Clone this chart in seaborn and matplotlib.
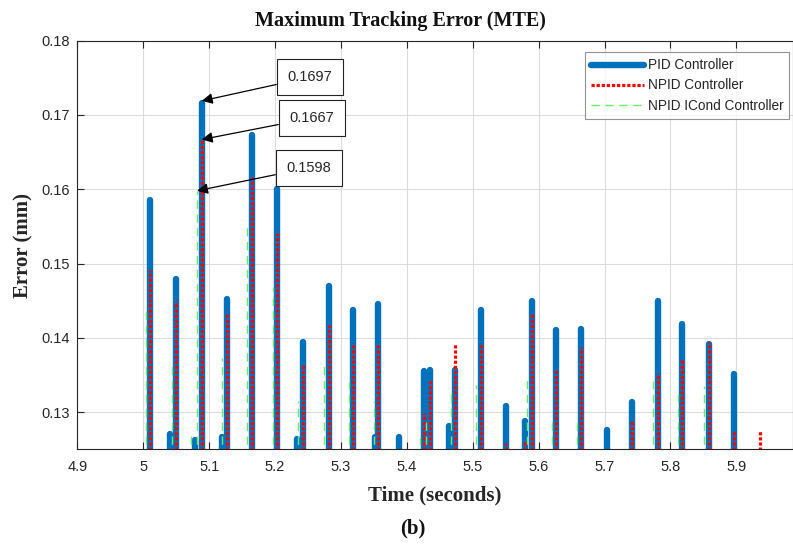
import pandas as pd
import matplotlib
matplotlib.use("Agg")
import matplotlib.pyplot as plt
import seaborn as sns

# peak times (s) and peak errors (mm), per controller
pid_t = [5.0103, 5.0407, 5.0498, 5.0786, 5.0888, 5.1190, 5.1267, 5.1651, 5.2026, 5.2330,
         5.2430, 5.2824, 5.3188, 5.3517, 5.3568, 5.3880, 5.4266, 5.4352, 5.4645, 5.4731,
         5.5121, 5.5501, 5.5798, 5.5895, 5.6269, 5.6643, 5.7042, 5.7422, 5.7816, 5.8180,
         5.8590, 5.8967]
pid_e = [0.1586, 0.1271, 0.1479, 0.1262, 0.1716, 0.1267, 0.1453, 0.1673, 0.1601, 0.1264,
         0.1394, 0.1470, 0.1438, 0.1267, 0.1446, 0.1267, 0.1356, 0.1357, 0.1281, 0.1357,
         0.1437, 0.1308, 0.1288, 0.1449, 0.1411, 0.1412, 0.1276, 0.1314, 0.1450, 0.1419,
         0.1392, 0.1352]

npid_t = [5.0103, 5.0498, 5.0888, 5.1267, 5.1651, 5.2026, 5.2430, 5.2824, 5.3188, 5.3568,
          5.4258, 5.4352, 5.4731, 5.5121, 5.5501, 5.5798, 5.5895, 5.6269, 5.6643, 5.7422,
          5.7816, 5.8180, 5.8590, 5.8967, 5.9355]
npid_e = [0.1492, 0.1449, 0.1667, 0.1433, 0.1617, 0.1541, 0.1364, 0.1417, 0.1390, 0.1391,
          0.1299, 0.1342, 0.1393, 0.1393, 0.1259, 0.1263, 0.1432, 0.1358, 0.1388, 0.1290,
          0.1353, 0.1371, 0.1394, 0.1276, 0.1275]

icond_t = [5.0038, 5.0443, 5.0728, 5.0817, 5.1200, 5.1580, 5.1965, 5.2356, 5.2748, 5.3127,
           5.3506, 5.4200, 5.4287, 5.4670, 5.5050, 5.5829, 5.6208, 5.6578, 5.7741, 5.8120,
           5.8514]
icond_e = [0.1437, 0.1364, 0.1274, 0.1598, 0.1373, 0.1554, 0.1468, 0.1315, 0.1367, 0.1340,
           0.1315, 0.1265, 0.1287, 0.1329, 0.1337, 0.1344, 0.1288, 0.1292, 0.1342, 0.1330,
           0.1335]

baseline = 0.12  # error floor, below the visible window

labels = ["PID Controller", "NPID Controller", "NPID ICond Controller"]
annot_vals = ["0.1697", "0.1667", "0.1598"]


def spikes(times, peaks):
    rows = []
    for i, (t, e) in enumerate(zip(times, peaks)):
        rows.append({"spike": i, "time": t, "error": baseline})
        rows.append({"spike": i, "time": t, "error": e})
    return pd.DataFrame(rows)


sns.set_style("white")
plt.rcParams["font.family"] = ["Liberation Sans", "DejaVu Sans"]

fig = plt.figure(figsize=(7.93, 5.5), dpi=100)
ax = fig.add_axes([0.0975, 0.183, 0.9025, 0.743])

serif = ["Liberation Serif", "DejaVu Serif"]

sns.lineplot(data=spikes(pid_t, pid_e), x="time", y="error", units="spike",
             estimator=None, color="#0072BD", linewidth=4.6,
             solid_capstyle="round", ax=ax)
n_pid = len(ax.lines)
sns.lineplot(data=spikes(npid_t, npid_e), x="time", y="error", units="spike",
             estimator=None, color="red", linewidth=2.3, linestyle=(0, (1, 0.6)), ax=ax)
n_npid = len(ax.lines)
sns.lineplot(data=spikes(icond_t, icond_e), x="time", y="error", units="spike",
             estimator=None, color="#66ee66", linewidth=1.0, linestyle=(0, (6, 4)), ax=ax)

ax.set_xlim(4.9, 5.986)
ax.set_ylim(0.125, 0.18)
ax.set_xticks([4.9, 5.0, 5.1, 5.2, 5.3, 5.4, 5.5, 5.6, 5.7, 5.8, 5.9])
ax.set_xticklabels(["4.9", "5", "5.1", "5.2", "5.3", "5.4", "5.5", "5.6", "5.7", "5.8", "5.9"])
ax.set_yticks([0.13, 0.14, 0.15, 0.16, 0.17, 0.18])
ax.set_yticklabels(["0.13", "0.14", "0.15", "0.16", "0.17", "0.18"])
ax.grid(True, color="#dcdcdc", linewidth=0.8)
ax.tick_params(direction="in", length=5, width=0.8, colors="#262626",
               labelsize=10.5, top=True, right=False, left=True, bottom=True)
ax.tick_params(axis="x", pad=8)
ax.tick_params(axis="y", pad=5)
for s in ax.spines.values():
    s.set_color("#262626")
    s.set_linewidth(0.8)

ax.set_xlabel("Time (seconds)", family=serif, fontweight="bold", fontsize=15,
              color="#262626", labelpad=8)
ax.set_ylabel("Error (mm)", family=serif, fontweight="bold", fontsize=15,
              color="#262626", labelpad=6)
fig.text(0.505, 0.962, "Maximum Tracking Error (MTE)", family=serif,
         fontweight="bold", fontsize=14.5, ha="center", va="center", color="#111111")
fig.text(0.521, 0.04, "(b)", family=serif, fontweight="bold", fontsize=15,
         ha="center", va="center", color="#111111")

handles = [ax.lines[0], ax.lines[n_pid], ax.lines[n_npid]]
leg = ax.legend(handles, labels, loc="upper right", bbox_to_anchor=(0.995, 0.972),
                borderaxespad=0, fontsize=9.8, handlelength=3.9, frameon=True,
                fancybox=False, labelspacing=0.45, borderpad=0.45, handletextpad=0.25)
leg.get_frame().set_edgecolor("#777777")
leg.get_frame().set_linewidth(0.8)

# data tips on the tallest spike of each controller
tips = [(pid_t[4], pid_e[4] + 0.0003, 5.2531, 0.1751),
        (npid_t[2], npid_e[2], 5.2561, 0.1696),
        (icond_t[3], icond_e[3], 5.2516, 0.1629)]
for (xt, yt, xb, yb), txt in zip(tips, annot_vals):
    ax.annotate(txt, xy=(xt, yt), xytext=(xb, yb), fontsize=10.5, ha="center", va="center",
                bbox=dict(boxstyle="square,pad=0.75", fc="white", ec="#222222", lw=0.8),
                arrowprops=dict(arrowstyle="-|>", color="black", lw=0.9,
                                mutation_scale=16, shrinkA=0, shrinkB=0))

fig.savefig("out.png", dpi=100)
